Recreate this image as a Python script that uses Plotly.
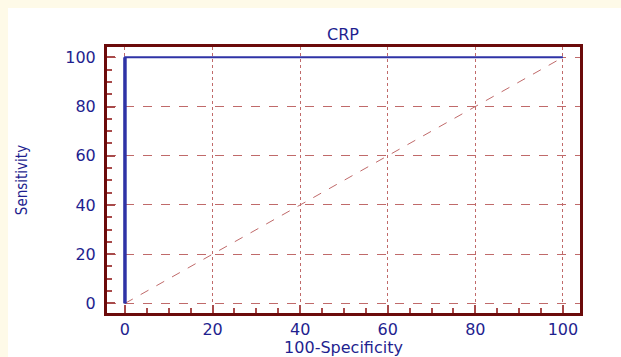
import plotly.graph_objects as go

# ROC curve data (100-Specificity vs Sensitivity)
fpr = [0, 0, 100]
tpr = [0, 100, 100]
diag_x = [0, 100]
diag_y = [0, 100]
tick_vals = [0, 20, 40, 60, 80, 100]
tick_text = ["0", "20", "40", "60", "80", "100"]

W, H = 621, 357
L, R, T, B = 107, 41, 47, 44
pw, ph = W - L - R, H - T - B


def px(x):
    return (x - L) / pw


def py(y):
    return (H - B - y) / ph


blue = "#2f33a6"
txt = "#1f1f8f"
frame = "#6b0a0a"
grid = "#c06a6a"
tickc = "#a84a4a"
cream = "#fefae8"
font_main = "DejaVu Sans, Verdana, sans-serif"

fig = go.Figure()
fig.add_trace(go.Scatter(x=diag_x, y=diag_y, mode="lines",
                         line=dict(color=grid, width=1, dash="dash"),
                         hoverinfo="skip", showlegend=False))
fig.add_trace(go.Scatter(x=fpr, y=tpr, mode="lines",
                         line=dict(color=blue, width=2),
                         showlegend=False))
fig.add_trace(go.Scatter(x=fpr[:2], y=tpr[:2], mode="lines",
                         line=dict(color=blue, width=3.5),
                         showlegend=False))

axis_common = dict(
    showline=True, linecolor=frame, linewidth=3, mirror=True,
    ticks="inside", ticklen=8, tickwidth=2, tickcolor=tickc,
    tickvals=tick_vals, ticktext=tick_text,
    tickfont=dict(family=font_main, size=16, color=txt),
    showgrid=True, gridcolor=grid, gridwidth=1,
    zeroline=False,
    minor=dict(dtick=5, tick0=0, ticks="inside", ticklen=5, tickwidth=2,
               tickcolor=tickc, showgrid=False),
)

fig.update_xaxes(range=[-4.1, 103.9], griddash="dot",
                 title=dict(text="100-Specificity", standoff=3,
                            font=dict(family=font_main, size=16, color=txt)),
                 **axis_common)
fig.update_yaxes(range=[-3.9, 104.2], griddash="dash",
                 ticklabelstandoff=5,
                 title=dict(text="Sensitivity", standoff=35,
                            font=dict(family="DejaVu Sans Condensed, sans-serif", size=15, color=txt)),
                 **axis_common)

fig.update_layout(
    width=W, height=H,
    margin=dict(l=L, r=R, t=T, b=B, autoexpand=False),
    paper_bgcolor="white", plot_bgcolor="white",
    title=dict(text="CRP", x=px(343), xref="paper", xanchor="center",
               y=1 - 34 / H, yanchor="middle",
               font=dict(family=font_main, size=16, color=txt)),
    shapes=[
        dict(type="rect", xref="paper", yref="paper", x0=px(0), x1=px(W), y0=py(8), y1=py(0),
             fillcolor=cream, line=dict(width=0), layer="below"),
        dict(type="rect", xref="paper", yref="paper", x0=px(0), x1=px(8), y0=py(H), y1=py(0),
             fillcolor=cream, line=dict(width=0), layer="below"),
    ],
)

fig.write_html("out.html",
               config={"displayModeBar": False},
               post_script="document.body.style.margin='0';"
                           "document.body.style.overflow='hidden';")
